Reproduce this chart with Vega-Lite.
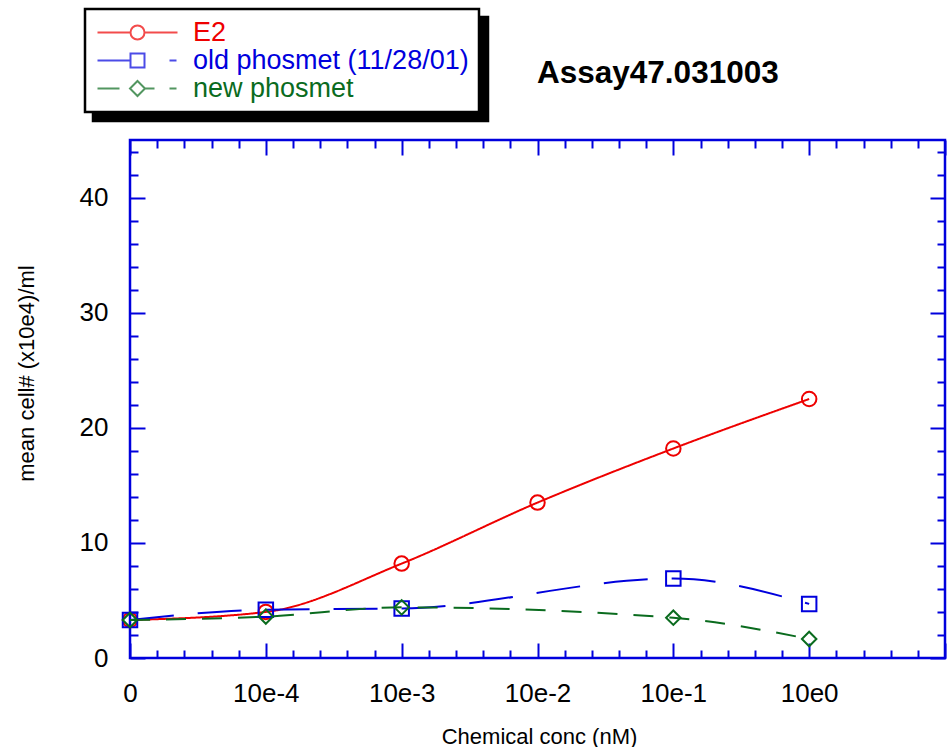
{
  "$schema": "https://vega.github.io/schema/vega-lite/v6.json",
  "width": 815,
  "height": 518,
  "autosize": {"type": "none"},
  "padding": {"left": 130, "top": 140, "right": 2, "bottom": 89},
  "background": "white",
  "config": {"view": {"stroke": "#0000dd", "strokeWidth": 2.5}, "font": "Liberation Sans", "legend": {"strokeWidth": 2.5}},
  "title": {"text": "Assay47.031003", "anchor": "start", "frame": "group", "dx": 407, "offset": -107, "baseline": "alphabetic", "font": "Liberation Sans", "fontSize": 31.5, "fontWeight": "bold", "color": "black"},
  "data": {"values": [
    {"series": "E2", "conc": 0, "cells": 3.3},
    {"series": "E2", "conc": 1, "cells": 4.0},
    {"series": "E2", "conc": 2, "cells": 8.2},
    {"series": "E2", "conc": 3, "cells": 13.5},
    {"series": "E2", "conc": 4, "cells": 18.2},
    {"series": "E2", "conc": 5, "cells": 22.5},
    {"series": "old phosmet (11/28/01)", "conc": 0, "cells": 3.3},
    {"series": "old phosmet (11/28/01)", "conc": 1, "cells": 4.2},
    {"series": "old phosmet (11/28/01)", "conc": 2, "cells": 4.3},
    {"series": "old phosmet (11/28/01)", "conc": 4, "cells": 6.9},
    {"series": "old phosmet (11/28/01)", "conc": 5, "cells": 4.7},
    {"series": "new phosmet", "conc": 0, "cells": 3.3},
    {"series": "new phosmet", "conc": 1, "cells": 3.6},
    {"series": "new phosmet", "conc": 2, "cells": 4.4},
    {"series": "new phosmet", "conc": 4, "cells": 3.5},
    {"series": "new phosmet", "conc": 5, "cells": 1.65}
  ]},
  "layer": [
    {
      "mark": {"type": "line", "interpolate": "monotone", "strokeWidth": 2},
      "encoding": {
        "x": {"field": "conc", "type": "quantitative", "scale": {"domain": [0, 6], "nice": false, "zero": false},
          "axis": {"orient": "bottom", "values": [0,0.2,0.4,0.6,0.8,1,1.2,1.4,1.6,1.8,2,2.2,2.4,2.6,2.8,3,3.2,3.4,3.6,3.8,4,4.2,4.4,4.6,4.8,5,5.2,5.4,5.6,5.8,6],
            "domain": false, "grid": false, "tickColor": "#0000dd", "tickWidth": 2,
            "tickSize": {"condition": {"test": "abs(datum.value - round(datum.value)) < 0.01", "value": -15}, "value": -8},
            "labelExpr": "abs(datum.value - round(datum.value)) < 0.01 && datum.value < 5.5 ? (datum.value < 0.5 ? '0' : '10e' + (round(datum.value) - 5)) : ''",
            "labelFont": "Liberation Sans", "labelFontSize": 26, "labelColor": "black", "labelPadding": 37, "labelOverlap": false, "labelFlush": false, "labelBound": false,
            "title": "Chemical conc (nM)", "titleFont": "Liberation Sans", "titleFontSize": 22, "titleFontWeight": "normal", "titleColor": "black",
            "titleX": 409, "titleY": 85, "titleAlign": "center", "titleBaseline": "alphabetic"}},
        "y": {"field": "cells", "type": "quantitative", "scale": {"domain": [0, 45], "nice": false},
          "axis": {"orient": "left", "values": [0,2,4,6,8,10,12,14,16,18,20,22,24,26,28,30,32,34,36,38,40,42,44],
            "domain": false, "grid": false, "tickColor": "#0000dd", "tickWidth": 2,
            "tickSize": {"condition": {"test": "datum.value % 10 == 0", "value": -15}, "value": -8},
            "labelExpr": "datum.value % 10 == 0 ? format(datum.value, 'd') : ''",
            "labelFont": "Liberation Sans", "labelFontSize": 26, "labelColor": "black", "labelPadding": 37, "labelOverlap": false, "labelFlush": false, "labelBound": false,
            "title": "mean cell# (x10e4)/ml", "titleFont": "Liberation Sans", "titleFontSize": 22, "titleFontWeight": "normal", "titleColor": "black",
            "titleAngle": 270, "titleX": -104, "titleY": 233, "titleAlign": "center", "titleBaseline": "middle"}},
        "color": {"field": "series", "type": "nominal",
          "scale": {"domain": ["E2", "old phosmet (11/28/01)", "new phosmet"], "range": ["#ee0000", "#0000dd", "#0a6b1e"]},
          "legend": {"title": null, "orient": "none", "legendX": -45, "legendY": -131, "zindex": 2,
            "padding": 10, "fillColor": "white", "strokeColor": "black", "cornerRadius": 0,
            "labelFont": "Liberation Sans", "labelFontSize": 27, "labelLimit": 600, "symbolSize": 400, "symbolOffset": 29, "labelOffset": 42, "rowPadding": 0, "symbolStrokeWidth": 2, "symbolFillColor": "transparent",
            "labelColor": {"expr": "datum.value === 'E2' ? '#ee0000' : datum.value === 'new phosmet' ? '#0a6b1e' : '#0000dd'"},
            "symbolType": {"expr": "datum.value === 'E2' ? 'M-4,0H-0.7M0.7,0H4M-0.7,0A0.7,0.7,0,1,0,0.7,0A0.7,0.7,0,1,0,-0.7,0' : datum.value === 'new phosmet' ? 'M-4,0H-1.8M0.75,0H1.7M0,-0.75L0.75,0L0,0.75L-0.75,0ZM3.2,0H3.9' : 'M-4,0H-0.7M-0.7,-0.7H0.7V0.7H-0.7ZM3.2,0H3.9'"}
          }},
        "strokeDash": {"field": "series", "type": "nominal",
          "scale": {"domain": ["new phosmet", "E2", "old phosmet (11/28/01)"], "range": [[20, 16], [1, 0], [44, 24]]},
          "legend": null}
      }
    },
    {
      "mark": {"type": "point", "filled": false, "size": 210, "strokeWidth": 2},
      "encoding": {
        "x": {"field": "conc", "type": "quantitative",
          "axis": {"orient": "top", "values": [0,0.2,0.4,0.6,0.8,1,1.2,1.4,1.6,1.8,2,2.2,2.4,2.6,2.8,3,3.2,3.4,3.6,3.8,4,4.2,4.4,4.6,4.8,5,5.2,5.4,5.6,5.8,6],
            "domain": false, "grid": false, "labels": false, "title": null, "tickColor": "#0000dd", "tickWidth": 2,
            "tickSize": {"condition": {"test": "abs(datum.value - round(datum.value)) < 0.01", "value": -15}, "value": -8}}},
        "y": {"field": "cells", "type": "quantitative",
          "axis": {"orient": "right", "values": [0,2,4,6,8,10,12,14,16,18,20,22,24,26,28,30,32,34,36,38,40,42,44],
            "domain": false, "grid": false, "labels": false, "title": null, "tickColor": "#0000dd", "tickWidth": 2,
            "tickSize": {"condition": {"test": "datum.value % 10 == 0", "value": -15}, "value": -8}}},
        "color": {"field": "series", "type": "nominal"},
        "shape": {"field": "series", "type": "nominal",
          "scale": {"domain": ["old phosmet (11/28/01)", "E2", "new phosmet"], "range": ["square", "circle", "diamond"]},
          "legend": null},
        "opacity": {"field": "series", "type": "nominal",
          "scale": {"type": "ordinal", "domain": ["new phosmet", "old phosmet (11/28/01)", "E2"], "range": [1, 1, 1]},
          "legend": {"title": null, "orient": "none", "legendX": -37, "legendY": -123, "zindex": 1,
            "padding": 4, "fillColor": "black", "strokeColor": "black", "cornerRadius": 0,
            "labelFont": "Liberation Sans", "labelFontSize": 1, "labelLimit": 600, "labelColor": "black", "labelOpacity": 0, "labelExpr": "datum.label == '#' ? 'x' : ''",
            "symbolSize": 400, "symbolOffset": 29, "labelOffset": 0, "rowPadding": 0, "symbolStrokeWidth": 2,
            "symbolType": "M-4,-1.3H34.3V1.3H-4Z", "symbolStrokeColor": "black", "symbolFillColor": "black"}}
      }
    }
  ],
  "resolve": {"axis": {"x": "independent", "y": "independent"}}
}
